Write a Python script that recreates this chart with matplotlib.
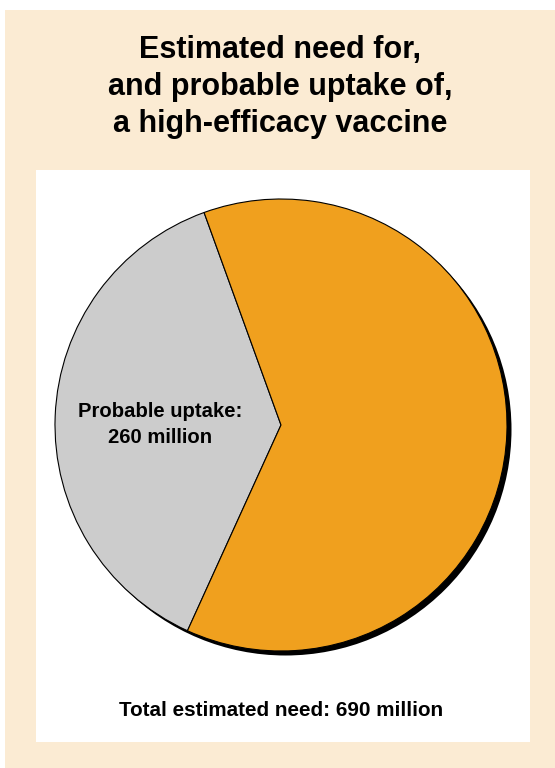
import matplotlib
matplotlib.use("Agg")
import matplotlib.pyplot as plt
from matplotlib.patches import Rectangle, Circle

plt.rcParams['font.family'] = ['Liberation Sans', 'DejaVu Sans']

# Data (millions of doses)
total_need = 690
uptake = 260
slice_values = [uptake, total_need - uptake]
slice_colors = ['#CCCCCC', '#F0A01E']
title_lines = ["Estimated need for,", "and probable uptake of,", "a high-efficacy vaccine"]
uptake_lines = ["Probable uptake:", f"{uptake} million"]
total_label = f"Total estimated need: {total_need} million"

W, H = 555, 768
fig = plt.figure(figsize=(W / 100, H / 100), dpi=100)
fig.patch.set_facecolor('white')

def px_rect(x0, y0, x1, y1):
    return (x0 / W, 1 - y1 / H, (x1 - x0) / W, (y1 - y0) / H)

# beige frame and white panel
l, b, w, h = px_rect(5, 10, 560, 775)
fig.patches.append(Rectangle((l, b), w, h, transform=fig.transFigure,
                             facecolor='#FBEBD3', edgecolor='none', zorder=0))
l, b, w, h = px_rect(36, 170, 530, 742)
fig.patches.append(Rectangle((l, b), w, h, transform=fig.transFigure,
                             facecolor='white', edgecolor='none', zorder=1))

for i, line in enumerate(title_lines):
    fig.text(280 / W, 1 - (58 + 37 * i) / H, line, ha='center', va='baseline',
             fontsize=22, fontweight='bold', zorder=3)

# pie axes
cx, cy, R = 281, 425, 226
ax = fig.add_axes(px_rect(cx - R, cy - R, cx + R, cy + R))
ax.set_zorder(2)
ax.set_xlim(-1, 1)
ax.set_ylim(-1, 1)
ax.set_aspect('equal')
ax.axis('off')
ax.patch.set_alpha(0)

off = 4.5 / R
ax.add_patch(Circle((off, -off), 1.0, facecolor='black', edgecolor='none',
                    zorder=0, clip_on=False))
ax.pie(slice_values, colors=slice_colors, startangle=109.9, counterclock=True,
       radius=1.0, center=(0, 0), frame=False,
       wedgeprops=dict(edgecolor='black', linewidth=0.8))
ax.set_xlim(-1, 1)
ax.set_ylim(-1, 1)

for i, line in enumerate(uptake_lines):
    fig.text(160 / W, 1 - (417 + 26 * i) / H, line, ha='center', va='baseline',
             fontsize=14.6, fontweight='bold', zorder=3)
fig.text(281.5 / W, 1 - 716 / H, total_label, ha='center', va='baseline',
         fontsize=14.9, fontweight='bold', zorder=3)

fig.savefig('out.png', dpi=100)
